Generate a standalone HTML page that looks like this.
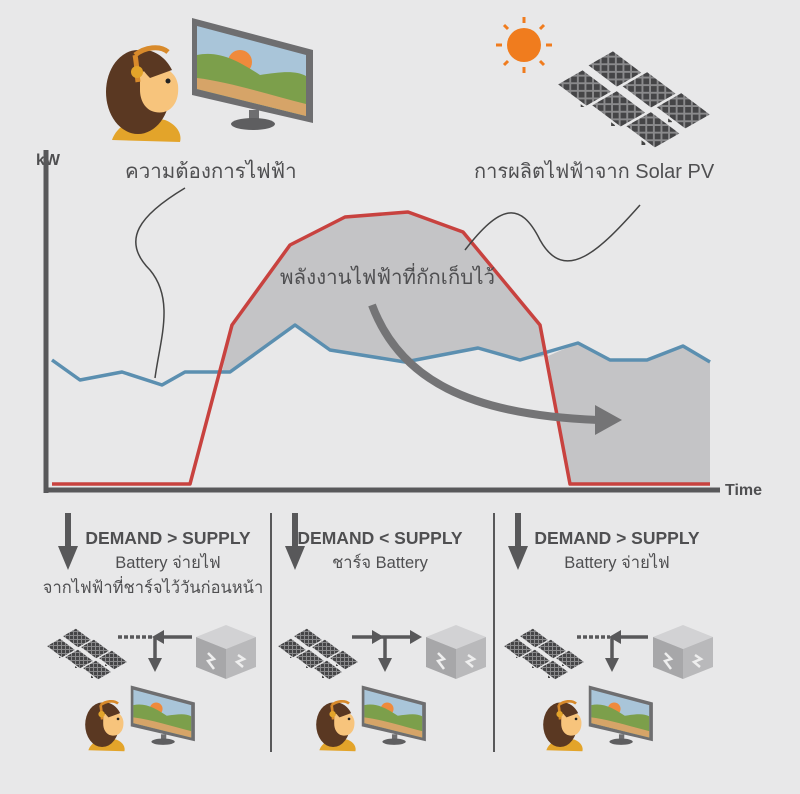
<!DOCTYPE html>
<html><head><meta charset="utf-8"><style>
html,body{margin:0;padding:0;background:#e8e8e9;}
svg{display:block}
text{font-family:"Liberation Sans","Noto Sans CJK SC",sans-serif;fill:#4f4f51;}
</style></head><body>
<svg width="800" height="794" viewBox="0 0 800 794" xmlns="http://www.w3.org/2000/svg">
<defs>
<pattern id="grid" width="4" height="4" patternUnits="userSpaceOnUse">
<rect width="4" height="4" fill="#8a8a8c"/><rect width="3" height="3" fill="#454547"/>
</pattern>
<g id="pm">
 <polygon points="192,18 313,50 313,123 192,95" fill="#6e6e70"/>
 <polygon points="197,26 306,55 306,116 197,89" fill="#a9c5d9"/>
 <circle cx="240" cy="62" r="12" fill="#ef8a3c"/>
 <path d="M197,55 C220,50 240,62 260,75 C280,72 295,70 306,76 L306,116 L197,89Z" fill="#7c9f4b"/>
 <path d="M197,78 C230,82 270,95 306,104 L306,116 L197,89Z" fill="#d6a468"/>
 <rect x="249" y="110" width="10" height="12" fill="#6e6e70"/>
 <ellipse cx="253" cy="124" rx="22" ry="6" fill="#5e5e60"/>
 <path d="M112,140 C118,122 140,115 165,120 C178,125 182,135 180,142 Z" fill="#e3a42a"/>
 <ellipse cx="138" cy="92" rx="32" ry="42" fill="#5a3822"/>
 <path d="M140,75 C150,62 175,65 178,85 C180,105 168,115 155,112 C145,110 140,100 140,90Z" fill="#f7c47c"/>
 <path d="M132,52 C148,45 165,55 172,70 L150,78 C142,70 138,62 132,52Z" fill="#5a3822"/>
 <circle cx="168" cy="81" r="2.5" fill="#222"/>
 <path d="M135,55 C145,47 160,45 168,52" stroke="#d88a2b" stroke-width="5" fill="none"/>
 <path d="M135,55 C137,65 137,75 138,82" stroke="#d88a2b" stroke-width="5" fill="none"/>
 <circle cx="137" cy="72" r="6" fill="#e3a42a"/>
</g>
<g id="panel"><polygon points="0,0 14,-8 30,4 16,12" fill="url(#grid)" stroke="#e8e8e9" stroke-width="1.2"/></g>
<g id="solar">
 <line x1="14" y1="18" x2="14" y2="30" stroke="#444" stroke-width="2"/>
 <line x1="30" y1="28" x2="30" y2="40" stroke="#444" stroke-width="2"/>
 <line x1="46" y1="38" x2="46" y2="50" stroke="#444" stroke-width="2"/>
 <line x1="60" y1="26" x2="60" y2="38" stroke="#444" stroke-width="2"/>
 <use href="#panel" x="16" y="8"/><use href="#panel" x="34" y="19"/><use href="#panel" x="52" y="30"/>
 <use href="#panel" x="0" y="18"/><use href="#panel" x="18" y="29"/><use href="#panel" x="36" y="40"/>
</g>
<g id="batt">
 <polygon points="0,12 30,0 60,12 30,24" fill="#d2d2d4"/>
 <polygon points="0,12 30,24 30,54 0,42" fill="#a7a7a9"/>
 <polygon points="30,24 60,12 60,42 30,54" fill="#b9b9bb"/>
 <path d="M12,28 L18,34 L12,36 L18,44" stroke="#eee" stroke-width="2.5" fill="none"/>
 <path d="M42,30 L48,34 L41,37 L47,42" stroke="#eee" stroke-width="2.5" fill="none"/>
</g>
</defs>

<use href="#pm"/>
<g transform="translate(524,45)">
 <g stroke="#f07c1e" stroke-width="3">
 <line x1="0" y1="-22" x2="0" y2="-28"/><line x1="0" y1="22" x2="0" y2="28"/><line x1="-22" y1="0" x2="-28" y2="0"/><line x1="22" y1="0" x2="28" y2="0"/>
 <line x1="16" y1="16" x2="20" y2="20"/><line x1="-16" y1="16" x2="-20" y2="20"/><line x1="16" y1="-16" x2="20" y2="-20"/><line x1="-16" y1="-16" x2="-20" y2="-20"/>
 </g>
 <circle r="17" fill="#f07c1e"/>
</g>
<use href="#solar" transform="translate(556,50) scale(1.9)"/>

<text x="125" y="178" font-size="20.5">ความต้องการไฟฟ้า</text>
<text x="474" y="178" font-size="20">การผลิตไฟฟ้าจาก Solar PV</text>
<text x="36" y="165" font-size="16" font-weight="bold">kW</text>
<text x="725" y="495" font-size="16" font-weight="bold">Time</text>

<polygon points="222,372 232,325 290,245 345,217 408,212 463,232 540,325 546,356 520,360 478,348 405,362 330,350 295,325 230,372" fill="#c4c4c6"/>
<polygon points="548,356 578,343 610,360 647,360 683,346 710,362 710,484 570,484" fill="#c4c4c6"/>
<polyline points="52,360 80,380 122,372 162,385 185,372 230,372 295,325 330,350 405,362 478,348 520,360 578,343 610,360 647,360 683,346 710,362" fill="none" stroke="#5b8fb0" stroke-width="3.5" stroke-linejoin="round"/>
<polyline points="52,484 190,484 232,325 290,245 345,217 408,212 463,232 540,325 570,484 710,484" fill="none" stroke="#c8423f" stroke-width="3.5" stroke-linejoin="round"/>
<path d="M185,188 C140,215 120,240 150,270 C175,300 160,340 155,378" fill="none" stroke="#444" stroke-width="1.5"/>
<path d="M465,250 C500,205 520,200 540,240 C565,285 600,250 640,205" fill="none" stroke="#444" stroke-width="1.5"/>
<path d="M372,305 C400,380 470,415 598,420" fill="none" stroke="#747476" stroke-width="8"/>
<polygon points="595,405 622,420 595,435" fill="#747476"/>
<text x="280" y="284" font-size="20.5">พลังงานไฟฟ้าที่กักเก็บไว้</text>
<line x1="46" y1="150" x2="46" y2="493" stroke="#58585a" stroke-width="5"/>
<line x1="44" y1="490" x2="720" y2="490" stroke="#58585a" stroke-width="5"/>

<line x1="271" y1="513" x2="271" y2="752" stroke="#58585a" stroke-width="2"/>
<line x1="494" y1="513" x2="494" y2="752" stroke="#58585a" stroke-width="2"/>
<g fill="#58585a">
 <rect x="65" y="513" width="6" height="35"/><polygon points="58,546 78,546 68,570"/>
 <rect x="292" y="513" width="6" height="35"/><polygon points="285,546 305,546 295,570"/>
 <rect x="515" y="513" width="6" height="35"/><polygon points="508,546 528,546 518,570"/>
</g>
<text x="168" y="544" font-size="17.5" font-weight="bold" text-anchor="middle">DEMAND &gt; SUPPLY</text>
<text x="168" y="568" font-size="16.5" text-anchor="middle">Battery จ่ายไฟ</text>
<text x="153" y="593" font-size="16.5" text-anchor="middle">จากไฟฟ้าที่ชาร์จไว้วันก่อนหน้า</text>
<text x="380" y="544" font-size="17.5" font-weight="bold" text-anchor="middle">DEMAND &lt; SUPPLY</text>
<text x="380" y="568" font-size="16.5" text-anchor="middle">ชาร์จ Battery</text>
<text x="617" y="544" font-size="17.5" font-weight="bold" text-anchor="middle">DEMAND &gt; SUPPLY</text>
<text x="617" y="568" font-size="16.5" text-anchor="middle">Battery จ่ายไฟ</text>

<use href="#solar" transform="translate(46,628)"/>
<use href="#solar" transform="translate(277,628)"/>
<use href="#solar" transform="translate(503,628)"/>
<use href="#batt" transform="translate(196,625)"/>
<use href="#batt" transform="translate(426,625)"/>
<use href="#batt" transform="translate(653,625)"/>

<g stroke="#58585a" stroke-width="3.5" fill="none">
 <line x1="118" y1="637" x2="152" y2="637" stroke-dasharray="4,2"/>
 <line x1="160" y1="637" x2="192" y2="637"/>
 <line x1="155" y1="637" x2="155" y2="660"/>
 <line x1="352" y1="637" x2="375" y2="637"/>
 <line x1="375" y1="637" x2="412" y2="637"/>
 <line x1="385" y1="637" x2="385" y2="660"/>
 <line x1="577" y1="637" x2="610" y2="637" stroke-dasharray="4,2"/>
 <line x1="618" y1="637" x2="648" y2="637"/>
 <line x1="612" y1="637" x2="612" y2="660"/>
</g>
<g fill="#58585a">
 <polygon points="152,637 164,630 164,644"/><polygon points="148,658 162,658 155,672"/>
 <polygon points="372,630 384,637 372,644"/><polygon points="410,630 422,637 410,644"/><polygon points="378,658 392,658 385,672"/>
 <polygon points="609,637 621,630 621,644"/><polygon points="605,658 619,658 612,672"/>
</g>

<use href="#pm" transform="translate(29,676) scale(0.53)"/>
<use href="#pm" transform="translate(260,676) scale(0.53)"/>
<use href="#pm" transform="translate(487,676) scale(0.53)"/>
</svg>
</body></html>
